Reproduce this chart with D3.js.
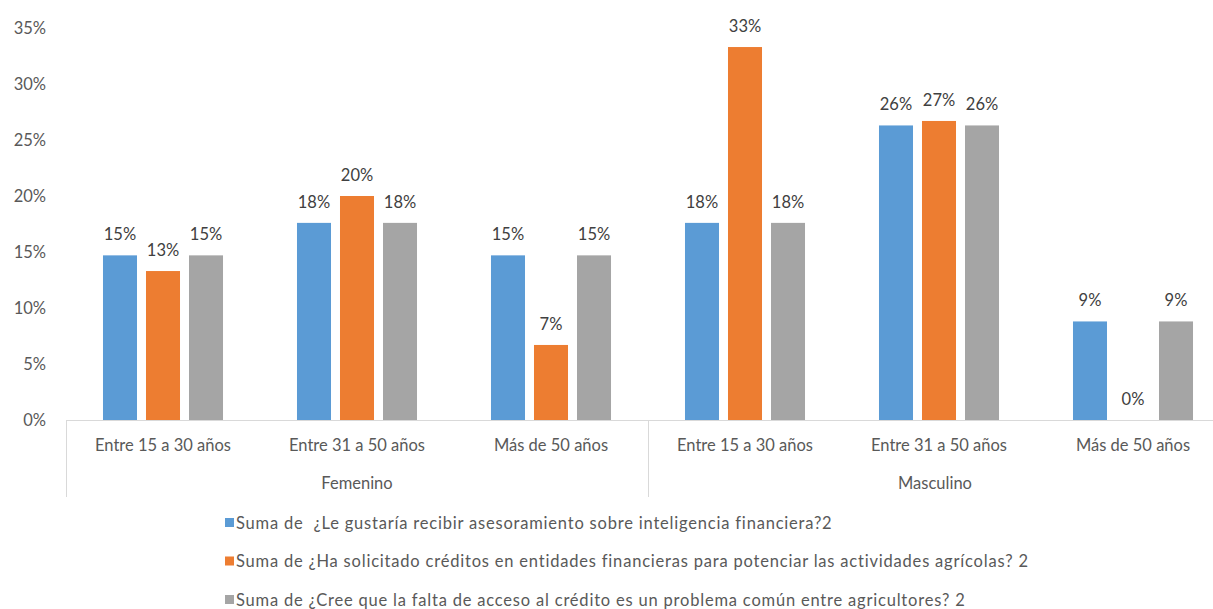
<!DOCTYPE html>
<html><head><meta charset="utf-8">
<script src="https://cdn.jsdelivr.net/npm/d3@7"></script>
<style>body{margin:0;background:#fff;}text{font-family:Lato,"Open Sans",sans-serif;}</style>
</head><body><svg id="c" width="1213" height="609"></svg>
<script>
const categories = ["Entre 15 a 30 años","Entre 31 a 50 años","Más de 50 años","Entre 15 a 30 años","Entre 31 a 50 años","Más de 50 años"];
const groups = ["Femenino","Masculino"];
const seriesNames = [
 "Suma de  ¿Le gustaría recibir asesoramiento sobre inteligencia financiera?2",
 "Suma de ¿Ha solicitado créditos en entidades financieras para potenciar las actividades agrícolas? 2",
 "Suma de ¿Cree que la falta de acceso al crédito es un problema común entre agricultores? 2"];
const blueValues = [0.147,0.176,0.147,0.176,0.263,0.088];
const orangeValues = [0.133,0.200,0.067,0.333,0.267,0.000];
const grayValues = [0.147,0.176,0.147,0.176,0.263,0.088];
const yTicks = [0,0.05,0.10,0.15,0.20,0.25,0.30,0.35];
const colors = ["#5b9bd5","#ed7d31","#a5a5a5"];
const series = [blueValues, orangeValues, grayValues];

const svg = d3.select("#c");
const x0 = 66, x1 = 1230, yBase = 420, yTop = 28;
const idx = d3.range(categories.length);
const x = d3.scaleBand().domain(idx).range([x0,x1]).paddingInner(0).paddingOuter(0);
const inner = d3.scaleBand().domain([0,1,2]).range([0,x.bandwidth()]).paddingInner(0.209).paddingOuter(0.86);
const y = d3.scaleLinear().domain([0,0.35]).range([yBase,yTop]);
const fmt = d3.format(".0%");
const txt = "#595959";
const fs = 16.5;

// y labels
svg.append("g").selectAll("text").data(yTicks).join("text")
  .attr("x",46).attr("y",d=>y(d)).attr("dy","0.35em").attr("text-anchor","end")
  .attr("font-size",fs).attr("fill",txt).text(d=>fmt(d));

// bars
series.forEach((vals,s)=>{
  const g = svg.append("g");
  g.selectAll("rect").data(idx).join("rect")
    .attr("x",i=>x(i)+inner(s)).attr("width",inner.bandwidth())
    .attr("y",i=>y(vals[i])).attr("height",i=>yBase-y(vals[i]))
    .attr("fill",colors[s]);
  g.selectAll("text").data(idx).join("text")
    .attr("x",i=>x(i)+inner(s)+inner.bandwidth()/2).attr("y",i=>y(vals[i])-21)
    .attr("dy","0.35em")
    .attr("text-anchor","middle").attr("font-size",fs).attr("fill","#404040")
    .text(i=>fmt(vals[i]));
});

// axis lines
const lc = "#d9d9d9";
svg.append("line").attr("x1",x0).attr("x2",x1).attr("y1",yBase+0.5).attr("y2",yBase+0.5).attr("stroke",lc);
[0,3,6].forEach(i=>{
  const xx = (i<6?x(i):x1)+0.5;
  svg.append("line").attr("x1",xx).attr("x2",xx).attr("y1",yBase).attr("y2",497).attr("stroke",lc);
});
// category labels
svg.append("g").selectAll("text").data(idx).join("text")
  .attr("x",i=>x(i)+x.bandwidth()/2).attr("y",445).attr("dy","0.35em").attr("text-anchor","middle")
  .attr("font-size",fs).attr("fill",txt).text(i=>categories[i]);
// group labels
const gCenters = [(x(0)+x(3))/2, (x(3)+x1)/2 - 4];
svg.append("g").selectAll("text").data(groups).join("text")
  .attr("x",(d,i)=>gCenters[i]).attr("y",483).attr("dy","0.35em").attr("text-anchor","middle")
  .attr("font-size",fs).attr("fill",txt).text(d=>d);

// legend
const leg = svg.append("g").selectAll("g").data(seriesNames).join("g")
  .attr("transform",(d,i)=>`translate(225,${523+i*38.5})`);
leg.append("rect").attr("x",0).attr("y",-5).attr("width",9).attr("height",9).attr("fill",(d,i)=>colors[i]);
leg.append("text").attr("x",11).attr("y",0).attr("dy","0.35em").attr("font-size",16.5).attr("fill",txt)
  .attr("letter-spacing",0.8).style("white-space","pre").text(d=>d);
</script></body></html>
